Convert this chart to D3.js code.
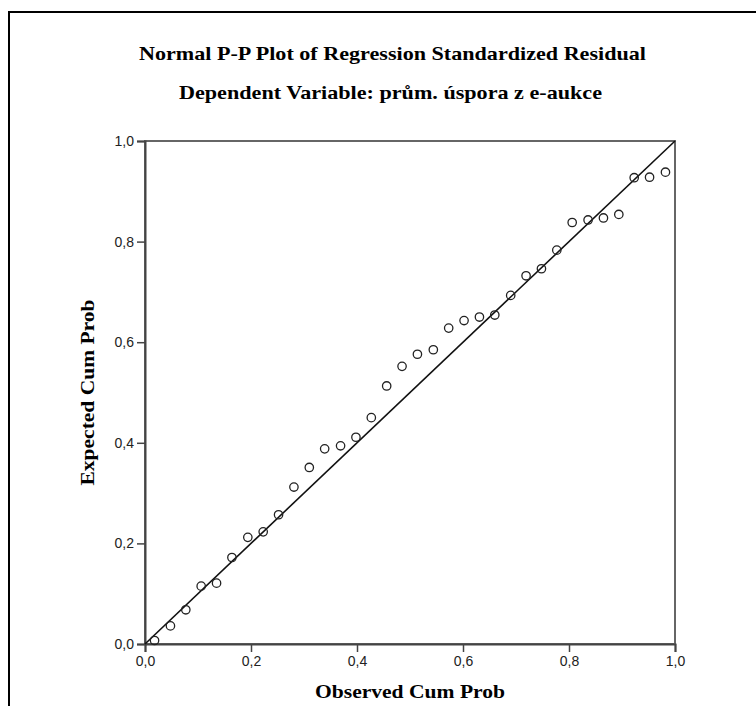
<!DOCTYPE html>
<html>
<head>
<meta charset="utf-8">
<script src="https://cdn.jsdelivr.net/npm/d3@7"></script>
<style>
  html, body { margin: 0; padding: 0; background: #fff; }
  svg { display: block; }
</style>
</head>
<body>
<svg id="chart" width="756" height="706"></svg>
<script>
const titleText = "Normal P-P Plot of Regression Standardized Residual";
const subtitleText = "Dependent Variable: prům. úspora z e-aukce";
const xLabelText = "Observed Cum Prob";
const yLabelText = "Expected Cum Prob";
const tickValues = [0, 0.2, 0.4, 0.6, 0.8, 1.0];

const observedCumProb = [0.018, 0.048, 0.077, 0.106, 0.135, 0.164, 0.194, 0.223, 0.252, 0.281,
  0.310, 0.339, 0.369, 0.398, 0.427, 0.456, 0.485, 0.514, 0.544, 0.573,
  0.602, 0.631, 0.660, 0.690, 0.719, 0.748, 0.777, 0.806, 0.836, 0.865,
  0.894, 0.923, 0.952, 0.982];
const expectedCumProb = [0.007, 0.036, 0.068, 0.115, 0.121, 0.172, 0.212, 0.223, 0.257, 0.312,
  0.351, 0.388, 0.394, 0.411, 0.450, 0.513, 0.552, 0.576, 0.585, 0.628,
  0.643, 0.650, 0.654, 0.693, 0.732, 0.746, 0.783, 0.838, 0.843, 0.847,
  0.854, 0.927, 0.928, 0.938];
const refLine = [[0, 0], [1, 1]];

const svg = d3.select("#chart");
const plot = { left: 145, right: 675, top: 141, bottom: 644 };

const x = d3.scaleLinear().domain([0, 1]).range([plot.left, plot.right]);
const y = d3.scaleLinear().domain([0, 1]).range([plot.bottom, plot.top]);
const locale = d3.formatLocale({ decimal: ",", thousands: ".", grouping: [3], currency: ["", ""] });
const fmt = locale.format(".1f");

// outer frame (top and left edges)
svg.append("path")
  .attr("d", "M9,706 L9,12 L756,12")
  .attr("fill", "none").attr("stroke", "#000").attr("stroke-width", 2);

// titles
const serif = "'Liberation Serif', 'Times New Roman', serif";
svg.append("text").attr("x", 392.5).attr("y", 60)
  .attr("text-anchor", "middle").attr("font-family", serif).attr("font-weight", "bold")
  .attr("font-size", 19).attr("textLength", 507).attr("lengthAdjust", "spacingAndGlyphs")
  .attr("fill", "#000").text(titleText);
svg.append("text").attr("x", 390.5).attr("y", 99)
  .attr("text-anchor", "middle").attr("font-family", serif).attr("font-weight", "bold")
  .attr("font-size", 19).attr("textLength", 423).attr("lengthAdjust", "spacingAndGlyphs")
  .attr("fill", "#000").text(subtitleText);

// plot frame
svg.append("rect")
  .attr("x", plot.left).attr("y", plot.top)
  .attr("width", plot.right - plot.left).attr("height", plot.bottom - plot.top)
  .attr("fill", "none").attr("stroke", "#666").attr("stroke-width", 2);

// axes
const sans = "'Liberation Sans', Arial, sans-serif";
const gx = svg.append("g").attr("transform", `translate(0,${plot.bottom})`)
  .call(d3.axisBottom(x).tickValues(tickValues).tickFormat(fmt).tickSize(8).tickPadding(4));
const gy = svg.append("g").attr("transform", `translate(${plot.left},0)`)
  .call(d3.axisLeft(y).tickValues(tickValues).tickFormat(fmt).tickSize(8).tickPadding(3));
[gx, gy].forEach(g => {
  g.select(".domain").attr("stroke", "#444").attr("stroke-width", 2);
  g.selectAll(".tick line").attr("stroke", "#444").attr("stroke-width", 1.5);
  g.selectAll(".tick text").attr("font-family", sans).attr("font-size", 14).attr("fill", "#222");
});

// reference line
svg.append("path")
  .datum(refLine)
  .attr("d", d3.line().x(d => x(d[0])).y(d => y(d[1])))
  .attr("fill", "none").attr("stroke", "#111").attr("stroke-width", 1.6);

// points
svg.append("g").selectAll("circle")
  .data(observedCumProb.map((v, i) => [v, expectedCumProb[i]]))
  .join("circle")
  .attr("cx", d => x(d[0])).attr("cy", d => y(d[1])).attr("r", 4.2)
  .attr("fill", "none").attr("stroke", "#222").attr("stroke-width", 1.3);

// axis labels
svg.append("text").attr("x", 410).attr("y", 698)
  .attr("text-anchor", "middle").attr("font-family", serif).attr("font-weight", "bold")
  .attr("font-size", 19).attr("textLength", 190).attr("lengthAdjust", "spacingAndGlyphs")
  .attr("fill", "#000").text(xLabelText);
svg.append("text").attr("transform", "translate(94,392.5) rotate(-90)")
  .attr("text-anchor", "middle").attr("font-family", serif).attr("font-weight", "bold")
  .attr("font-size", 19).attr("textLength", 186).attr("lengthAdjust", "spacingAndGlyphs")
  .attr("fill", "#000").text(yLabelText);
</script>
</body>
</html>
